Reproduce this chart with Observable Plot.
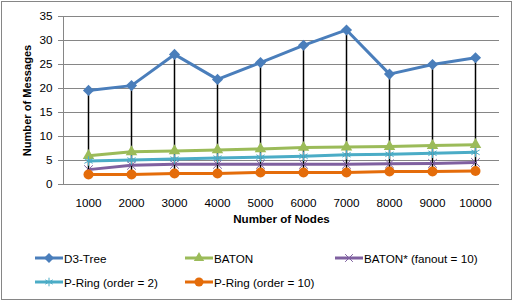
<!DOCTYPE html>
<html><head><meta charset="utf-8">
<script src="https://cdn.jsdelivr.net/npm/d3@7"></script>
<script src="https://cdn.jsdelivr.net/npm/@observablehq/plot@0.6"></script>
<style>
body{margin:0;background:#fff;font-family:"Liberation Sans",Arial,sans-serif;}
#wrap{position:relative;width:515px;height:302px;overflow:hidden;background:#fff;}
#border{position:absolute;left:1px;top:1px;width:509px;height:297px;border:1px solid #868686;}
#chart{position:absolute;left:0;top:0;}
.leg{position:absolute;display:flex;align-items:center;font-size:11.7px;color:#000;white-space:nowrap;}
.leg svg{margin-right:1px;}
</style></head>
<body><div id="wrap"><div id="border"></div><div id="chart"></div><div id="legend"></div></div>
<script>
const nodes = ["1000","2000","3000","4000","5000","6000","7000","8000","9000","10000"];
const seriesNames = ["D3-Tree","BATON","BATON* (fanout = 10)","P-Ring (order = 2)","P-Ring (order = 10)"];
const d3tree  = [19.6, 20.6, 27.1, 21.9, 25.4, 29.0, 32.2, 23.0, 25.0, 26.4];
const baton   = [6.0, 6.8, 7.0, 7.2, 7.4, 7.7, 7.8, 7.9, 8.1, 8.3];
const batonF  = [3.1, 4.0, 4.2, 4.2, 4.2, 4.2, 4.2, 4.3, 4.4, 4.6];
const pring2  = [4.9, 5.1, 5.3, 5.5, 5.7, 5.9, 6.2, 6.3, 6.5, 6.7];
const pring10 = [2.1, 2.1, 2.3, 2.3, 2.5, 2.5, 2.5, 2.7, 2.7, 2.8];
const yTicks = [0,5,10,15,20,25,30,35];

const colors = ["#4A7EBB","#9BBB59","#7F60A0","#4BACC6","#E46C0A"];
const symbols = ["diamond2","triangle2","times","asterisk","circle"];
const filled = [true,true,false,false,true];
const radii = [5,5.5,4,4.5,5];
const values = [d3tree, baton, batonF, pring2, pring10];

const rows = [];
values.forEach((arr,si)=>arr.forEach((v,i)=>rows.push({series:seriesNames[si], node:nodes[i], value:v})));
const ranges = nodes.map((n,i)=>({node:n, lo:d3.min(values,a=>a[i]), hi:d3.max(values,a=>a[i])}));

const marks = [
  Plot.gridY(yTicks,{stroke:"#868686",strokeOpacity:1}),
  Plot.axisY(yTicks,{tickSize:5,tickPadding:6,stroke:"#868686",label:null,fontSize:"11.7px"}),
  Plot.axisX({tickSize:0,tickPadding:14,label:null,fontSize:"11.7px"}),
  Plot.frame({anchor:"left",stroke:"#868686"}),
  Plot.ruleY([0],{stroke:"#868686"}),
  Plot.text(["Number of Messages"],{frameAnchor:"left",rotate:-90,dx:-36,text:d=>d,textAnchor:"middle",fontWeight:"bold",fontSize:11.1}),
  Plot.text(["Number of Nodes"],{frameAnchor:"bottom",dy:38,text:d=>d,textAnchor:"middle",fontWeight:"bold",fontSize:11.6})
];
seriesNames.forEach((s,si)=>{
  marks.push(Plot.line(rows.filter(r=>r.series===s),{x:"node",y:"value",stroke:colors[si],strokeWidth:3}));
});
marks.push(Plot.ruleX(ranges,{x:"node",y1:"lo",y2:"hi",stroke:"#000",strokeWidth:1.5}));
seriesNames.forEach((s,si)=>{
  marks.push(Plot.dot(rows.filter(r=>r.series===s),{x:"node",y:"value",symbol:()=>symbols[si],r:radii[si],
    fill: filled[si]?colors[si]:"none", stroke: colors[si], strokeWidth: filled[si]?0:1}));
});

const chart = Plot.plot({
  width:515, height:240,
  marginLeft:63, marginRight:16, marginTop:16, marginBottom:56,
  style:{fontFamily:"Liberation Sans, Arial, sans-serif",fontSize:"11.7px",background:"transparent",color:"#000"},
  x:{type:"point",domain:nodes,padding:0.5},
  y:{domain:[0,35]},
  symbol:{type:"identity"},
  marks
});
document.getElementById("chart").appendChild(chart);

// legend
const legPos = [[35,250],[185,250],[335,250],[35,274],[185,274]];
const leg = document.getElementById("legend");
const symMap = {diamond2:d3.symbolDiamond2,triangle2:d3.symbolTriangle2,times:d3.symbolTimes,asterisk:d3.symbolAsterisk,circle:d3.symbolCircle};
seriesNames.forEach((s,si)=>{
  const div=document.createElement("div");
  div.className="leg";
  div.style.left=legPos[si][0]+"px"; div.style.top=legPos[si][1]+"px"; div.style.height="16px";
  const r=radii[si]*0.9;
  const path=d3.symbol(symMap[symbols[si]], Math.PI*r*r)();
  div.innerHTML=`<svg width="28" height="16"><line x1="0" x2="28" y1="8" y2="8" stroke="${colors[si]}" stroke-width="3"/><path transform="translate(14,8)" d="${path}" fill="${filled[si]?colors[si]:'none'}" stroke="${colors[si]}" stroke-width="${filled[si]?0:1}"/></svg><span>${s}</span>`;
  leg.appendChild(div);
});
</script></body></html>
